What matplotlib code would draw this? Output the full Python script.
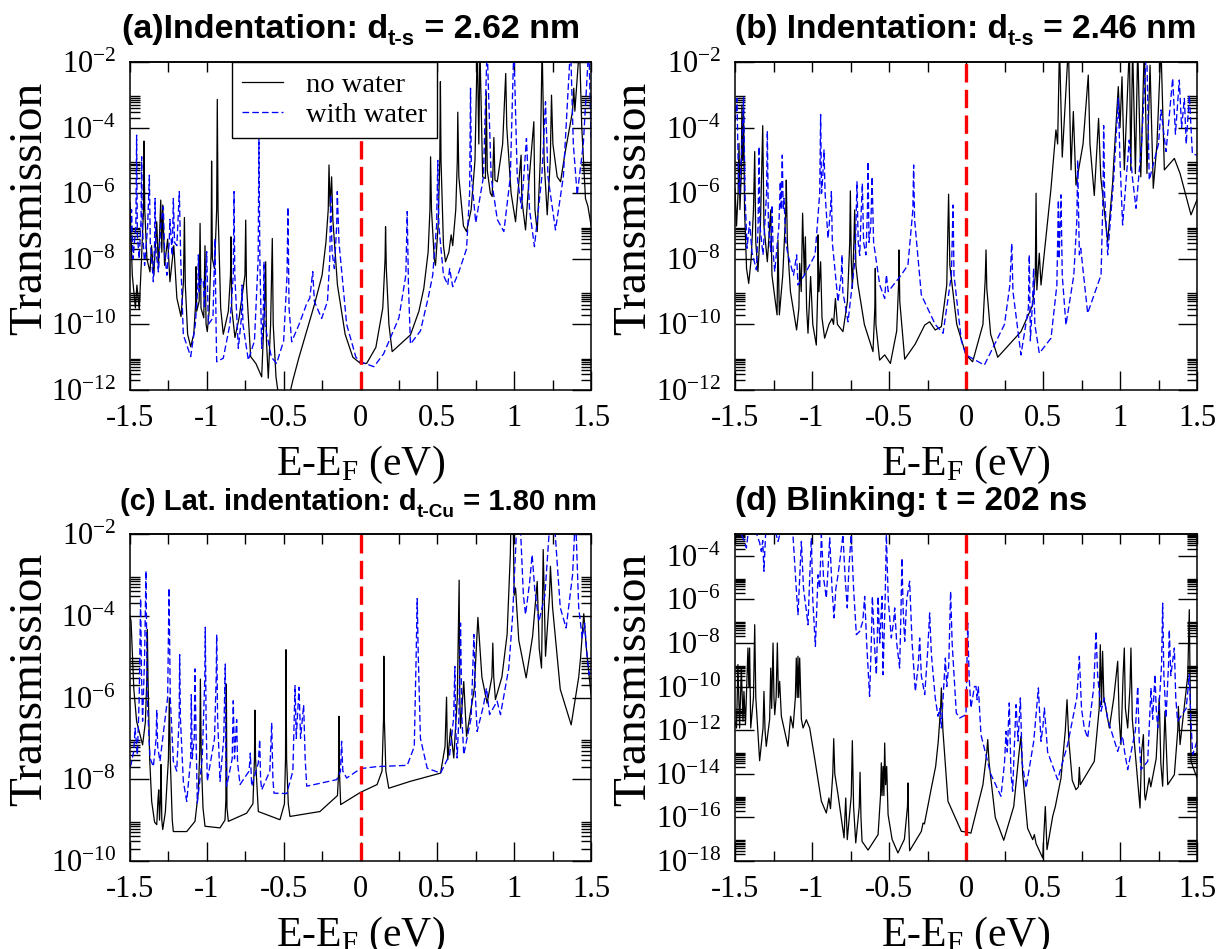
import numpy as np
import matplotlib
matplotlib.use("Agg")
import matplotlib.pyplot as plt
from matplotlib.ticker import FixedLocator, FuncFormatter, MultipleLocator

plt.rcParams['font.family'] = 'Liberation Serif'
plt.rcParams['mathtext.fontset'] = 'custom'
plt.rcParams['mathtext.rm'] = 'Liberation Serif'
plt.rcParams['mathtext.it'] = 'Liberation Serif:italic'
plt.rcParams['axes.unicode_minus'] = False

# ---- data: (E - E_F [eV], log10 T) ----
a_dry = np.array([
    (-1.500, -6.3), (-1.485, -8.5), (-1.465, -9.5), (-1.455, -8.8), (-1.440, -9.55), (-1.425, -8.0),
    (-1.412, -6.5), (-1.409, -4.41), (-1.404, -6.5), (-1.390, -8.0), (-1.370, -8.4), (-1.360, -7.6),
    (-1.345, -8.5), (-1.326, -6.87), (-1.315, -8.3), (-1.300, -6.21), (-1.293, -7.8), (-1.287, -6.36),
    (-1.275, -8.2), (-1.255, -7.4), (-1.240, -8.7), (-1.215, -7.6), (-1.195, -9.2), (-1.168, -9.76),
    (-1.152, -8.7), (-1.146, -6.74), (-1.140, -8.8), (-1.125, -10.3), (-1.105, -10.68), (-1.085, -10.3),
    (-1.072, -9.3), (-1.070, -8.24), (-1.066, -9.6), (-1.050, -9.3), (-1.044, -6.92), (-1.038, -9.5),
    (-1.020, -9.8), (-1.012, -7.60), (-1.005, -10.0), (-0.997, -10.22), (-0.985, -9.6), (-0.972, -7.8),
    (-0.969, -5.02), (-0.964, -8.0), (-0.950, -8.3), (-0.936, -6.5), (-0.932, -3.14), (-0.927, -6.5),
    (-0.910, -9.5), (-0.893, -10.3), (-0.860, -9.6), (-0.846, -8.5), (-0.843, -7.33), (-0.838, -9.5),
    (-0.817, -10.4), (-0.790, -9.8), (-0.752, -8.5), (-0.747, -6.82), (-0.742, -8.8), (-0.715, -10.98),
    (-0.680, -11.2), (-0.643, -11.6), (-0.625, -9.5), (-0.617, -8.09), (-0.612, -10.5), (-0.600, -11.64),
    (-0.585, -10.0), (-0.574, -7.38), (-0.568, -10.0), (-0.550, -11.6), (-0.530, -12.3), (-0.470, -12.3),
    (-0.440, -11.7), (-0.400, -11.0), (-0.350, -10.2), (-0.300, -9.4), (-0.250, -8.5), (-0.225, -7.5),
    (-0.210, -6.5), (-0.205, -5.14), (-0.198, -6.4), (-0.188, -5.50), (-0.180, -6.8), (-0.150, -8.8),
    (-0.100, -10.3), (-0.050, -11.0), (0.000, -11.19), (0.040, -11.19), (0.100, -10.7), (0.145, -9.5),
    (0.160, -8.0), (0.163, -7.02), (0.168, -8.3), (0.185, -10.0), (0.206, -10.83), (0.325, -10.32),
    (0.380, -9.6), (0.412, -8.9), (0.440, -7.8), (0.452, -6.5), (0.456, -4.89), (0.462, -6.5),
    (0.480, -8.0), (0.488, -8.2), (0.505, -7.0), (0.516, -5.0), (0.520, -2.60), (0.524, -5.0),
    (0.540, -7.6), (0.553, -8.09), (0.575, -7.8), (0.590, -7.27), (0.600, -7.6), (0.620, -6.5),
    (0.630, -5.0), (0.633, -3.53), (0.640, -5.5), (0.670, -7.0), (0.690, -7.17), (0.720, -6.5),
    (0.745, -5.0), (0.760, -1.5), (0.770, -4.5), (0.777, -1.5), (0.795, -5.5), (0.813, -5.55),
    (0.818, -2.90), (0.825, -5.3), (0.845, -6.0), (0.857, -6.10), (0.868, -4.3), (0.875, -5.6),
    (0.890, -5.65), (0.925, -4.5), (0.945, -2.35), (0.952, -4.0), (0.980, -6.0), (1.009, -6.87),
    (1.045, -4.84), (1.050, -6.2), (1.074, -7.12), (1.090, -6.0), (1.128, -3.82), (1.135, -6.5),
    (1.150, -7.17), (1.170, -5.0), (1.182, -1.5), (1.195, -5.0), (1.215, -6.66), (1.235, -5.0),
    (1.243, -3.01), (1.252, -4.5), (1.280, -5.5), (1.302, -5.65), (1.330, -4.8), (1.380, -3.5),
    (1.388, -2.80), (1.395, -3.5), (1.425, -1.5), (1.440, -4.0), (1.464, -6.16), (1.480, -6.4),
    (1.500, -6.97)])

a_wet = np.array([
    (-1.500, -7.5), (-1.490, -6.5), (-1.480, -8.0), (-1.462, -7.0), (-1.457, -4.23), (-1.452, -7.3),
    (-1.440, -8.0), (-1.428, -6.8), (-1.424, -4.89), (-1.420, -7.0), (-1.405, -8.2), (-1.385, -7.0),
    (-1.374, -5.45), (-1.368, -7.5), (-1.348, -8.7), (-1.340, -7.5), (-1.337, -6.16), (-1.330, -7.8),
    (-1.315, -8.4), (-1.300, -7.0), (-1.283, -6.41), (-1.275, -7.8), (-1.260, -8.5), (-1.245, -7.5),
    (-1.240, -6.8), (-1.225, -7.9), (-1.218, -6.16), (-1.210, -7.5), (-1.195, -7.6), (-1.179, -5.95),
    (-1.170, -8.0), (-1.153, -10.32), (-1.105, -10.98), (-1.075, -10.0), (-1.058, -8.8), (-1.055, -7.88),
    (-1.050, -9.0), (-1.035, -8.6), (-1.023, -8.70), (-1.015, -9.5), (-1.001, -7.78), (-0.990, -10.0),
    (-0.960, -9.8), (-0.947, -7.38), (-0.940, -10.0), (-0.936, -11.14), (-0.893, -11.03), (-0.850, -10.0),
    (-0.828, -8.5), (-0.823, -5.95), (-0.818, -8.5), (-0.795, -10.73), (-0.775, -9.8), (-0.771, -8.80),
    (-0.765, -10.0), (-0.730, -11.09), (-0.690, -10.5), (-0.666, -8.0), (-0.661, -4.33), (-0.655, -8.0),
    (-0.643, -10.73), (-0.632, -9.5), (-0.628, -8.09), (-0.622, -10.0), (-0.580, -11.0), (-0.546, -11.19),
    (-0.500, -10.5), (-0.478, -8.5), (-0.472, -6.43), (-0.465, -9.5), (-0.448, -10.53), (-0.400, -10.0),
    (-0.361, -9.51), (-0.350, -9.36), (-0.330, -9.2), (-0.311, -8.39), (-0.300, -9.3), (-0.253, -9.82),
    (-0.215, -9.3), (-0.200, -8.0), (-0.194, -6.05), (-0.185, -7.8), (-0.170, -8.3), (-0.155, -7.0),
    (-0.151, -5.95), (-0.140, -7.5), (-0.090, -10.0), (-0.030, -11.0), (0.000, -11.14), (0.087, -11.29),
    (0.150, -10.9), (0.250, -9.8), (0.295, -8.5), (0.304, -6.56), (0.312, -8.8), (0.325, -10.6),
    (0.390, -10.2), (0.440, -9.2), (0.470, -8.5), (0.495, -7.0), (0.503, -5.00), (0.510, -7.0),
    (0.540, -8.5), (0.568, -8.80), (0.580, -8.3), (0.600, -8.85), (0.640, -8.4), (0.690, -7.7),
    (0.710, -6.0), (0.716, -2.80), (0.722, -5.5), (0.750, -6.90), (0.800, -5.5), (0.824, -1.5),
    (0.850, -5.5), (0.890, -6.8), (0.933, -7.17), (0.975, -5.5), (0.998, -1.5), (1.020, -5.5),
    (1.048, -6.46), (1.080, -4.33), (1.100, -6.5), (1.132, -7.63), (1.180, -5.5), (1.204, -3.21),
    (1.220, -5.5), (1.269, -7.12), (1.320, -5.5), (1.367, -1.5), (1.385, -4.5), (1.410, -6.05),
    (1.450, -4.5), (1.486, -1.5), (1.500, -4.3)])

b_dry = np.array([
    (-1.500, -5.85), (-1.490, -7.0), (-1.480, -6.0), (-1.474, -4.48), (-1.468, -6.5), (-1.460, -5.5),
    (-1.455, -3.31), (-1.450, -5.0), (-1.444, -3.51), (-1.438, -6.5), (-1.425, -8.3), (-1.411, -8.75),
    (-1.395, -8.0), (-1.380, -6.5), (-1.372, -4.73), (-1.365, -7.5), (-1.351, -8.39), (-1.335, -7.0),
    (-1.320, -3.94), (-1.312, -7.0), (-1.290, -8.09), (-1.275, -7.0), (-1.268, -6.51), (-1.260, -8.5),
    (-1.227, -9.71), (-1.221, -7.43), (-1.212, -9.71), (-1.190, -8.5), (-1.170, -6.5), (-1.167, -5.60),
    (-1.160, -7.5), (-1.140, -9.0), (-1.100, -10.17), (-1.085, -9.5), (-1.080, -8.14), (-1.070, -9.0),
    (-1.061, -6.61), (-1.050, -8.5), (-1.043, -7.33), (-1.035, -9.5), (-1.026, -10.27), (-1.009, -8.54),
    (-0.995, -10.0), (-0.972, -10.63), (-0.963, -9.0), (-0.961, -7.27), (-0.955, -9.0), (-0.944, -8.09),
    (-0.935, -9.8), (-0.918, -10.42), (-0.890, -10.0), (-0.870, -9.82), (-0.860, -10.0), (-0.848, -9.21),
    (-0.835, -10.0), (-0.799, -10.22), (-0.770, -9.3), (-0.755, -7.5), (-0.751, -5.93), (-0.745, -8.0),
    (-0.738, -8.90), (-0.728, -7.5), (-0.723, -6.51), (-0.715, -8.2), (-0.701, -8.80), (-0.660, -10.0),
    (-0.604, -10.83), (-0.592, -9.5), (-0.589, -8.29), (-0.585, -10.0), (-0.561, -11.09), (-0.528, -10.93),
    (-0.491, -11.19), (-0.450, -10.2), (-0.438, -8.8), (-0.435, -7.73), (-0.430, -9.3), (-0.398, -11.06),
    (-0.330, -10.6), (-0.268, -10.02), (-0.236, -9.92), (-0.200, -10.17), (-0.160, -10.07), (-0.125, -8.8),
    (-0.113, -6.03), (-0.105, -8.2), (-0.060, -10.0), (0.000, -10.93), (0.043, -11.14), (0.110, -10.0),
    (0.125, -8.6), (0.130, -7.73), (0.135, -8.9), (0.160, -10.3), (0.206, -11.0), (0.357, -10.22),
    (0.433, -9.41), (0.450, -8.5), (0.455, -6.00), (0.460, -8.95), (0.476, -7.83), (0.487, -8.80),
    (0.552, -5.85), (0.584, -4.07), (0.595, -4.5), (0.607, -1.5), (0.625, -4.9), (0.665, -1.5),
    (0.682, -5.29), (0.697, -3.51), (0.714, -5.75), (0.760, -4.5), (0.794, -2.40), (0.805, -4.5),
    (0.833, -6.07), (0.861, -3.72), (0.875, -5.5), (0.920, -7.48), (0.952, -5.70), (0.960, -5.0),
    (0.989, -2.75), (1.000, -4.0), (1.013, -2.45), (1.028, -5.29), (1.061, -1.5), (1.070, -5.3),
    (1.082, -1.5), (1.100, -5.4), (1.115, -1.5), (1.135, -5.5), (1.158, -1.5), (1.175, -5.4),
    (1.195, -2.1), (1.216, -5.85), (1.240, -4.5), (1.266, -1.5), (1.288, -5.29), (1.353, -4.94),
    (1.390, -5.4), (1.461, -6.66), (1.500, -6.2)])

b_wet = np.array([
    (-1.500, -3.82), (-1.487, -3.11), (-1.478, -5.5), (-1.470, -6.0), (-1.455, -4.5), (-1.444, -3.06),
    (-1.435, -6.0), (-1.422, -7.68), (-1.405, -6.87), (-1.390, -7.8), (-1.361, -8.34), (-1.350, -7.0),
    (-1.344, -4.58), (-1.338, -7.0), (-1.318, -7.88), (-1.295, -6.0), (-1.290, -4.10), (-1.283, -7.0),
    (-1.268, -7.78), (-1.260, -6.36), (-1.252, -7.8), (-1.242, -8.39), (-1.215, -7.0), (-1.206, -5.65),
    (-1.200, -6.5), (-1.193, -4.84), (-1.187, -6.5), (-1.182, -6.16), (-1.170, -7.5), (-1.156, -7.88),
    (-1.120, -8.5), (-1.100, -7.88), (-1.091, -8.80), (-1.050, -8.5), (-0.980, -7.88), (-0.950, -6.0),
    (-0.944, -3.60), (-0.938, -6.0), (-0.930, -5.5), (-0.922, -4.68), (-0.915, -6.0), (-0.896, -7.38),
    (-0.880, -6.5), (-0.874, -5.95), (-0.868, -7.5), (-0.831, -9.31), (-0.810, -8.5), (-0.805, -7.88),
    (-0.800, -9.0), (-0.766, -9.92), (-0.720, -8.0), (-0.708, -5.65), (-0.700, -7.5), (-0.690, -7.9),
    (-0.680, -6.5), (-0.673, -5.70), (-0.665, -7.5), (-0.650, -7.88), (-0.640, -6.5), (-0.636, -5.04),
    (-0.630, -7.5), (-0.618, -7.0), (-0.610, -5.50), (-0.600, -7.5), (-0.560, -8.8), (-0.528, -9.21),
    (-0.517, -8.49), (-0.505, -9.0), (-0.420, -8.49), (-0.377, -8.19), (-0.345, -6.5), (-0.340, -5.14),
    (-0.334, -6.8), (-0.290, -9.10), (-0.200, -10.0), (-0.149, -10.27), (-0.095, -8.5), (-0.084, -6.36),
    (-0.078, -8.5), (-0.030, -10.5), (0.000, -10.93), (0.119, -11.24), (0.250, -10.0), (0.285, -8.8),
    (0.297, -7.53), (0.305, -9.0), (0.357, -10.93), (0.395, -9.8), (0.405, -9.5), (0.411, -7.88),
    (0.418, -10.5), (0.432, -9.3), (0.439, -8.29), (0.447, -10.0), (0.476, -10.88), (0.552, -10.42),
    (0.590, -8.8), (0.600, -6.21), (0.605, -8.0), (0.617, -6.05), (0.625, -8.5), (0.649, -10.02),
    (0.700, -8.5), (0.720, -6.8), (0.725, -4.99), (0.736, -7.88), (0.745, -7.68), (0.790, -9.66),
    (0.877, -8.49), (0.890, -6.0), (0.894, -3.94), (0.900, -6.0), (0.920, -7.88), (0.960, -5.5),
    (0.989, -3.11), (1.000, -5.0), (1.017, -6.97), (1.060, -4.38), (1.080, -5.5), (1.104, -6.46),
    (1.140, -4.5), (1.173, -1.5), (1.190, -5.60), (1.250, -4.5), (1.266, -3.46), (1.299, -4.73),
    (1.342, -2.50), (1.360, -4.2), (1.385, -2.55), (1.400, -4.0), (1.418, -3.11), (1.430, -4.5),
    (1.450, -3.01), (1.470, -4.8), (1.500, -4.84)])

c_dry = np.array([
    (-1.500, -4.0), (-1.493, -4.14), (-1.475, -5.8), (-1.457, -6.58), (-1.418, -7.16), (-1.400, -6.6),
    (-1.390, -5.5), (-1.387, -4.34), (-1.383, -5.5), (-1.372, -7.5), (-1.359, -8.54), (-1.340, -9.05),
    (-1.326, -9.11), (-1.318, -8.5), (-1.313, -8.26), (-1.308, -9.0), (-1.302, -8.5), (-1.298, -7.64),
    (-1.293, -9.0), (-1.287, -9.23), (-1.270, -8.8), (-1.250, -7.5), (-1.244, -6.01), (-1.238, -7.5),
    (-1.225, -9.0), (-1.218, -9.28), (-1.131, -9.28), (-1.077, -9.03), (-1.055, -8.3), (-1.046, -7.3),
    (-1.042, -5.55), (-1.036, -7.5), (-1.025, -8.7), (-1.012, -9.15), (-0.914, -9.19), (-0.882, -9.0),
    (-0.876, -8.5), (-0.873, -5.67), (-0.869, -8.7), (-0.860, -9.03), (-0.741, -8.83), (-0.700, -8.6),
    (-0.690, -7.5), (-0.687, -6.31), (-0.683, -7.5), (-0.665, -8.79), (-0.524, -8.99), (-0.495, -8.6),
    (-0.488, -7.5), (-0.485, -4.83), (-0.481, -7.5), (-0.470, -8.6), (-0.459, -8.91), (-0.264, -8.79),
    (-0.150, -8.4), (-0.142, -7.8), (-0.140, -6.46), (-0.137, -7.8), (-0.129, -8.62), (0.000, -8.32),
    (0.108, -8.13), (0.140, -7.8), (0.150, -6.5), (0.152, -4.99), (0.155, -6.5), (0.165, -7.8),
    (0.184, -8.22), (0.325, -8.05), (0.521, -7.85), (0.550, -7.2), (0.560, -5.99), (0.564, -7.0),
    (0.568, -7.52), (0.586, -6.77), (0.607, -7.48), (0.630, -6.0), (0.642, -3.13), (0.646, -6.0),
    (0.651, -6.75), (0.672, -5.61), (0.690, -6.95), (0.740, -5.8), (0.764, -4.04), (0.790, -5.5),
    (0.824, -6.14), (0.855, -5.5), (0.861, -4.67), (0.867, -5.5), (0.878, -6.05), (0.920, -5.5),
    (0.954, -4.46), (0.975, -2.5), (0.980, -1.5), (0.993, -1.5), (1.000, -3.5), (1.009, -3.32),
    (1.030, -4.6), (1.078, -5.52), (1.120, -4.5), (1.150, -3.16), (1.163, -4.8), (1.178, -5.28),
    (1.189, -2.38), (1.204, -4.99), (1.230, -3.5), (1.236, -2.79), (1.250, -3.8), (1.300, -5.8),
    (1.371, -6.67), (1.420, -5.5), (1.432, -5.03), (1.453, -3.95), (1.470, -4.8), (1.500, -5.93)])

c_wet = np.array([
    (-1.500, -7.7), (-1.493, -7.64), (-1.475, -7.3), (-1.467, -6.75), (-1.452, -7.40), (-1.440, -6.0),
    (-1.431, -3.58), (-1.425, -5.5), (-1.418, -6.58), (-1.405, -5.0), (-1.396, -2.90), (-1.388, -6.0),
    (-1.370, -7.48), (-1.348, -7.69), (-1.330, -7.0), (-1.326, -6.30), (-1.320, -7.2), (-1.305, -7.56),
    (-1.255, -6.0), (-1.246, -3.32), (-1.238, -6.0), (-1.218, -7.56), (-1.196, -7.8), (-1.180, -6.5),
    (-1.177, -4.95), (-1.172, -6.5), (-1.153, -8.05), (-1.131, -8.54), (-1.105, -7.5), (-1.101, -5.93),
    (-1.095, -7.5), (-1.082, -7.0), (-1.077, -5.30), (-1.070, -7.0), (-1.062, -8.58), (-1.030, -7.5),
    (-1.013, -5.5), (-1.010, -4.28), (-1.005, -6.5), (-0.997, -8.05), (-0.950, -7.0), (-0.939, -5.5),
    (-0.936, -4.46), (-0.930, -6.5), (-0.914, -8.05), (-0.890, -7.0), (-0.880, -5.18), (-0.876, -7.5),
    (-0.871, -8.17), (-0.835, -7.5), (-0.828, -6.08), (-0.820, -7.5), (-0.806, -6.54), (-0.800, -7.6),
    (-0.784, -8.13), (-0.725, -7.8), (-0.717, -7.36), (-0.708, -8.17), (-0.665, -7.6), (-0.656, -7.03),
    (-0.650, -8.0), (-0.643, -8.26), (-0.590, -7.8), (-0.578, -6.62), (-0.570, -8.0), (-0.563, -8.34),
    (-0.480, -8.35), (-0.440, -7.8), (-0.426, -5.71), (-0.418, -7.0), (-0.400, -5.75), (-0.390, -7.0),
    (-0.370, -6.18), (-0.360, -7.5), (-0.350, -8.17), (-0.155, -8.01), (-0.130, -7.8), (-0.123, -7.07),
    (-0.115, -7.8), (-0.090, -7.97), (0.000, -7.74), (0.108, -7.69), (0.304, -7.66), (0.350, -7.2),
    (0.362, -5.0), (0.369, -3.58), (0.376, -5.0), (0.390, -7.0), (0.434, -7.73), (0.521, -7.85),
    (0.580, -7.4), (0.606, -6.5), (0.614, -5.24), (0.620, -6.8), (0.629, -7.48), (0.640, -6.5),
    (0.651, -4.18), (0.660, -6.5), (0.672, -7.40), (0.720, -6.5), (0.738, -4.46), (0.748, -6.0),
    (0.759, -6.83), (0.800, -6.2), (0.820, -5.77), (0.840, -6.42), (0.889, -6.09), (0.911, -6.42),
    (0.965, -5.28), (0.990, -4.0), (1.020, -1.5), (1.037, -1.5), (1.060, -3.5), (1.074, -3.97),
    (1.100, -3.2), (1.117, -2.51), (1.135, -3.4), (1.161, -4.14), (1.200, -3.5), (1.236, -1.5),
    (1.258, -1.5), (1.300, -3.8), (1.338, -4.30), (1.380, -3.0), (1.399, -1.5), (1.420, -3.8),
    (1.443, -4.54), (1.458, -4.18), (1.475, -5.0), (1.488, -5.44), (1.500, -5.28)])

d_dry = np.array([
    (-1.500, -11.6), (-1.490, -11.9), (-1.481, -8.99), (-1.470, -11.9), (-1.459, -9.15), (-1.448, -11.59),
    (-1.442, -10.22), (-1.432, -11.75), (-1.416, -8.23), (-1.410, -10.0), (-1.405, -8.23), (-1.398, -11.90),
    (-1.380, -10.5), (-1.372, -7.16), (-1.365, -10.5), (-1.340, -13.40), (-1.318, -11.90), (-1.312, -10.22),
    (-1.305, -12.0), (-1.297, -12.74), (-1.275, -11.5), (-1.268, -9.15), (-1.262, -11.0), (-1.253, -8.00),
    (-1.247, -10.5), (-1.242, -11.29), (-1.233, -10.5), (-1.225, -8.00), (-1.218, -10.5), (-1.210, -9.76),
    (-1.199, -11.36), (-1.156, -12.74), (-1.139, -11.36), (-1.123, -11.90), (-1.108, -10.5), (-1.102, -8.69),
    (-1.096, -10.5), (-1.091, -8.61), (-1.086, -10.5), (-1.080, -8.69), (-1.069, -11.5), (-1.058, -11.90),
    (-1.037, -11.52), (-1.015, -11.90), (-0.983, -13.28), (-0.939, -15.26), (-0.907, -15.80), (-0.890, -15.11),
    (-0.880, -15.6), (-0.865, -14.0), (-0.859, -12.39), (-0.852, -14.0), (-0.831, -14.96), (-0.792, -16.94),
    (-0.781, -15.11), (-0.771, -17.02), (-0.745, -15.0), (-0.738, -12.48), (-0.730, -15.5), (-0.716, -17.17),
    (-0.693, -15.5), (-0.688, -13.93), (-0.682, -16.0), (-0.675, -17.10), (-0.636, -17.5), (-0.571, -16.79),
    (-0.555, -15.0), (-0.550, -13.50), (-0.545, -15.0), (-0.539, -13.66), (-0.533, -15.0), (-0.528, -12.59),
    (-0.522, -14.5), (-0.515, -13.66), (-0.506, -15.87), (-0.480, -17.0), (-0.442, -17.63), (-0.400, -17.0),
    (-0.380, -15.5), (-0.377, -14.42), (-0.373, -16.0), (-0.366, -17.53), (-0.290, -16.64), (-0.279, -16.26),
    (-0.270, -16.3), (-0.225, -14.65), (-0.197, -13.66), (-0.180, -12.5), (-0.165, -11.0), (-0.160, -10.06),
    (-0.150, -12.0), (-0.117, -15.26), (-0.030, -16.64), (0.000, -16.67), (0.032, -16.72), (0.110, -14.5),
    (0.135, -13.0), (0.141, -12.43), (0.150, -13.5), (0.190, -16.0), (0.245, -17.05), (0.310, -15.5),
    (0.345, -13.0), (0.357, -12.28), (0.368, -14.0), (0.400, -16.5), (0.433, -17.02), (0.444, -16.79),
    (0.455, -17.2), (0.498, -17.86), (0.515, -15.5), (0.526, -17.48), (0.563, -15.95), (0.580, -15.5),
    (0.617, -14.19), (0.645, -12.0), (0.656, -10.60), (0.668, -12.5), (0.690, -14.3), (0.714, -14.73),
    (0.730, -14.6), (0.736, -13.70), (0.742, -14.5), (0.833, -13.43), (0.865, -11.0), (0.872, -8.08),
    (0.880, -10.83), (0.887, -8.38), (0.895, -10.5), (0.931, -11.90), (0.960, -10.5), (0.985, -8.84),
    (0.995, -11.5), (1.006, -12.66), (1.020, -9.5), (1.028, -8.23), (1.035, -11.0), (1.050, -11.9),
    (1.065, -10.0), (1.071, -8.23), (1.080, -11.5), (1.130, -15.57), (1.140, -13.0), (1.152, -12.20),
    (1.160, -14.96), (1.165, -15.2), (1.190, -14.19), (1.200, -14.6), (1.223, -13.73), (1.235, -13.3),
    (1.255, -10.52), (1.265, -13.5), (1.277, -14.57), (1.292, -11.13), (1.310, -14.5), (1.353, -14.04),
    (1.375, -12.0), (1.379, -10.91), (1.390, -12.66), (1.440, -9.5), (1.450, -6.47), (1.455, -9.5),
    (1.461, -13.43), (1.500, -14.19)])

d_wet = np.array([
    (-1.500, -2.8), (-1.475, -2.8), (-1.440, -3.3), (-1.426, -3.64), (-1.412, -2.8), (-1.370, -2.8),
    (-1.340, -3.4), (-1.329, -3.80), (-1.320, -3.3), (-1.312, -4.71), (-1.300, -2.8), (-1.240, -2.8),
    (-1.221, -3.34), (-1.200, -2.8), (-1.140, -2.8), (-1.123, -3.11), (-1.105, -5.2), (-1.091, -6.70),
    (-1.080, -5.0), (-1.069, -3.34), (-1.055, -5.5), (-1.037, -6.5), (-1.026, -7.16), (-1.015, -5.0),
    (-1.004, -3.18), (-0.995, -6.0), (-0.978, -8.15), (-0.961, -4.87), (-0.950, -5.5), (-0.939, -3.03),
    (-0.925, -5.0), (-0.907, -5.94), (-0.895, -4.5), (-0.885, -3.18), (-0.870, -5.5), (-0.857, -6.85),
    (-0.845, -5.5), (-0.831, -4.87), (-0.815, -4.0), (-0.799, -3.03), (-0.785, -5.0), (-0.771, -6.39),
    (-0.760, -4.5), (-0.745, -3.03), (-0.730, -5.5), (-0.712, -7.62), (-0.690, -7.46), (-0.670, -7.0),
    (-0.658, -5.86), (-0.645, -8.0), (-0.626, -10.45), (-0.615, -8.0), (-0.608, -5.86), (-0.595, -8.0),
    (-0.582, -9.45), (-0.575, -7.5), (-0.571, -5.86), (-0.560, -8.0), (-0.550, -6.5), (-0.545, -5.86),
    (-0.539, -9.45), (-0.525, -6.0), (-0.517, -3.03), (-0.505, -6.0), (-0.485, -7.77), (-0.470, -7.0),
    (-0.463, -6.39), (-0.450, -8.0), (-0.431, -9.15), (-0.422, -6.5), (-0.416, -4.10), (-0.408, -6.5),
    (-0.398, -7.92), (-0.385, -6.0), (-0.366, -5.17), (-0.350, -8.0), (-0.329, -10.22), (-0.310, -9.0),
    (-0.301, -7.77), (-0.290, -9.5), (-0.268, -10.37), (-0.250, -8.5), (-0.236, -6.62), (-0.225, -8.5),
    (-0.200, -10.5), (-0.182, -11.36), (-0.170, -11.0), (-0.160, -11.90), (-0.145, -10.0), (-0.134, -8.69),
    (-0.125, -10.0), (-0.112, -9.0), (-0.100, -5.63), (-0.090, -8.0), (-0.063, -11.21), (-0.041, -11.44),
    (0.000, -11.29), (0.006, -9.0), (0.011, -7.08), (0.020, -9.5), (0.032, -10.98), (0.055, -10.0),
    (0.065, -9.99), (0.072, -10.6), (0.080, -9.99), (0.097, -12.20), (0.160, -14.0), (0.227, -15.03),
    (0.250, -13.5), (0.260, -12.05), (0.268, -13.0), (0.281, -10.75), (0.292, -14.0), (0.303, -14.80),
    (0.318, -12.0), (0.325, -10.83), (0.338, -12.5), (0.353, -10.52), (0.365, -13.5), (0.390, -14.65),
    (0.440, -12.5), (0.465, -10.5), (0.470, -10.06), (0.480, -11.5), (0.487, -12.51), (0.500, -11.8),
    (0.509, -10.98), (0.530, -13.0), (0.595, -14.27), (0.660, -12.66), (0.720, -10.5), (0.736, -8.61),
    (0.750, -11.0), (0.768, -11.90), (0.790, -12.36), (0.830, -10.0), (0.844, -7.46), (0.855, -9.5),
    (0.877, -11.13), (0.898, -10.52), (0.920, -11.5), (0.985, -12.97), (1.005, -12.5), (1.017, -12.28),
    (1.030, -13.0), (1.050, -13.81), (1.100, -12.0), (1.115, -9.99), (1.125, -12.5), (1.136, -13.81),
    (1.180, -13.43), (1.195, -11.0), (1.201, -10.06), (1.212, -11.5), (1.227, -9.45), (1.235, -11.0),
    (1.245, -11.90), (1.270, -9.0), (1.277, -6.17), (1.285, -9.5), (1.299, -11.44), (1.315, -9.0),
    (1.320, -7.39), (1.330, -9.5), (1.353, -8.23), (1.362, -10.5), (1.374, -11.59), (1.430, -11.0),
    (1.450, -9.45), (1.460, -11.5), (1.472, -13.12), (1.500, -12.51)])

ylims = {'a': (-12, -2), 'b': (-12, -2), 'c': (-10, -2), 'd': (-18, -3)}
titles = {
    'a': ("(a)Indentation: d", "t-s", " = 2.62 nm"),
    'b': ("(b) Indentation: d", "t-s", " = 2.46 nm"),
    'c': ("(c) Lat. indentation: d", "t-Cu", " = 1.80 nm"),
    'd': ("(d) Blinking: t = 202 ns", "", ""),
}
title_size = {'a': 24.5, 'b': 24, 'c': 21, 'd': 23.8}
curves = {'a': (a_dry, a_wet), 'b': (b_dry, b_wet), 'c': (c_dry, c_wet), 'd': (d_dry, d_wet)}

W, H = 1220, 949
fig = plt.figure(figsize=(W / 100, H / 100), dpi=100)
# axes boxes in pixels: left, top, right, bottom
boxes = {'a': (130, 62, 591, 390), 'b': (735, 62, 1197, 390),
         'c': (130, 534, 591, 861), 'd': (735, 534, 1197, 861)}
title_pos = {'a': (122, 38), 'b': (735, 38), 'c': (120, 510), 'd': (735, 510)}

for key, (l, t, r, b) in boxes.items():
    ax = fig.add_axes([l / W, 1 - b / H, (r - l) / W, (b - t) / H])
    dry, wet = curves[key]
    lo, hi = ylims[key]
    ln1, = ax.semilogy(dry[:, 0], 10.0 ** dry[:, 1], color='black', lw=0.9, label='no water')
    ln2, = ax.semilogy(wet[:, 0], 10.0 ** wet[:, 1], color='#0000ff', lw=0.95,
                       ls=(0, (5, 2.4)), label='with water')
    ax.axvline(0, color='#ff0000', lw=2.4, ls=(0, (5.5, 2.2)))
    ax.set_xlim(-1.5, 1.5)
    ax.set_ylim(10.0 ** lo, 10.0 ** hi)

    ax.xaxis.set_major_locator(MultipleLocator(0.5))
    ax.xaxis.set_minor_locator(MultipleLocator(0.25))
    ax.xaxis.set_major_formatter(FuncFormatter(lambda v, p: '%g' % v))
    ax.yaxis.set_major_locator(FixedLocator([10.0 ** e for e in range(lo, hi + 1, 2)]))
    ax.yaxis.set_minor_locator(FixedLocator([k * 10.0 ** e for e in range(lo, hi, 2) for k in range(2, 10)]))
    ax.yaxis.set_major_formatter(FuncFormatter(lambda v, p: r'$10^{%d}$' % round(np.log10(v))))
    ax.yaxis.set_minor_formatter(FuncFormatter(lambda v, p: ''))

    ax.tick_params(axis='both', which='both', direction='in', labelsize=22, width=1.0)
    ax.tick_params(axis='x', which='both', top=False)
    ax.tick_params(axis='y', which='both', right=True)
    ax.tick_params(which='major', length=14)
    ax.tick_params(which='minor', length=7)
    ax.tick_params(axis='x', which='major', pad=10)
    ax.tick_params(axis='y', which='major', pad=10)
    top = ax.secondary_xaxis('top')
    top.xaxis.set_major_locator(MultipleLocator(0.5))
    top.xaxis.set_minor_locator(MultipleLocator(0.25))
    top.tick_params(which='both', direction='in', length=7, width=1.0, labeltop=False)
    for s in list(ax.spines.values()) + list(top.spines.values()):
        s.set_linewidth(1.1)

    ax.set_xlabel(r'E-E$_\mathrm{F}$ (eV)', fontsize=30)
    ax.xaxis.set_label_coords(0.5, -0.165)
    ax.set_ylabel('Transmission', fontsize=34)
    ax.yaxis.set_label_coords(-0.172, 0.555)

    if key == 'a':
        leg = ax.legend(handles=[ln1, ln2], loc='upper left', bbox_to_anchor=(0.221, 1.0),
                        borderaxespad=0, fancybox=False, edgecolor='black', framealpha=1,
                        fontsize=20.5, handlelength=1.45, handletextpad=0.8, borderpad=0.35,
                        labelspacing=0.15)
        leg.get_frame().set_linewidth(1.0)

# titles with bold subscripts, chained left to right
renderer = fig.canvas.get_renderer()
for key, (pre, sub, post) in titles.items():
    x, y = title_pos[key]
    fs = title_size[key]
    t1 = fig.text(x / W, 1 - y / H, pre, fontsize=fs, fontweight='bold',
                  family='Liberation Sans', va='baseline')
    if sub:
        x2 = t1.get_window_extent(renderer).x1
        t2 = fig.text(x2 / W, 1 - (y + 7) / H, sub, fontsize=fs * 0.65, fontweight='bold',
                      family='Liberation Sans', va='baseline')
        x3 = t2.get_window_extent(renderer).x1
        fig.text(x3 / W, 1 - y / H, post, fontsize=fs, fontweight='bold',
                 family='Liberation Sans', va='baseline')

fig.savefig('out.png', dpi=100)
